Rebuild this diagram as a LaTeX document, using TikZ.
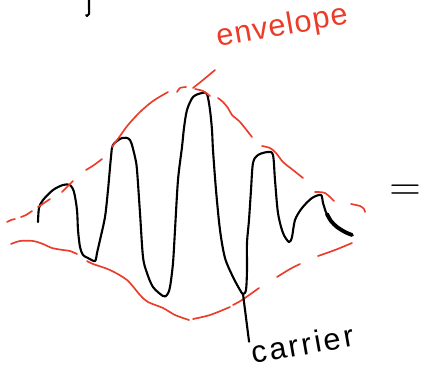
\documentclass[tikz,border=0pt]{standalone}
\usepackage{fontspec}
\setmainfont{Liberation Sans}
\definecolor{penred}{RGB}{235,60,42}
\tikzset{
    carrierpen/.style={draw=black, line width=1.2pt, line cap=round, line join=round},
    tailpen/.style={draw=black, line width=2.2pt, line cap=round, line join=round},
    envpen/.style={draw=penred, line width=0.95pt, line cap=round, line join=round},
    handlabel/.style={inner sep=0pt, rotate=10},
    equalsign/.style={inner sep=0pt, font=\fontsize{30}{30}\selectfont}
}

\begin{document}
\begin{tikzpicture}[x=0.02cm, y=-0.02cm]
    \useasboundingbox (0,0) rectangle (424,370);

    % Tratto in alto
    \draw [carrierpen] plot [smooth, tension=0.6] coordinates {(89,0) (89,8) (89,14) (87,16) (86,15)};

    % Portante
    \draw [carrierpen] plot [smooth, tension=0.5] coordinates {
        (38,222) (39,208) (43,200) (53,190) (63,185) (70,185) (74,192) (77,210) (78,230) (80,247)
        (83,255) (88,258) (95,261) (97,253) (100,240) (105,217) (108,190) (111,157) (113,145)
        (122,138) (130,140) (135,157) (137,170) (140,213) (143,257) (147,273) (153,287) (163,296)
        (167,295) (170,287) (173,263) (175,230) (178,180) (182,147) (184,128) (187,110) (193,97)
        (202,93) (207,94) (210,110) (212,130) (213,150) (216,190) (220,230) (225,258) (233,277)
        (240,290) (243,294) (246,290) (247,270) (247,243) (249,220) (251,190) (253,163) (258,155)
        (268,152) (273,155) (275,180) (278,213) (283,233) (289,242) (292,237) (295,220) (302,208)
        (312,198) (321,195) (323,203) (328,217) (337,227) (345,232) (352,235)};
    \draw [tailpen] plot [smooth, tension=0.5] coordinates {(327,214) (331,221) (337,227) (345,232) (352,235)};
    \coordinate (trough) at (243,294);

    % Inviluppo superiore
    \draw [envpen] plot [smooth] coordinates {(7,222) (11,220) (15,219)};
    \draw [envpen] plot [smooth] coordinates {(21,217) (26,215) (32,211)};
    \draw [envpen] plot [smooth] coordinates {(38,207) (44,203) (50,199)};
    \draw [envpen] plot [smooth] coordinates {(62,192) (67,187) (73,181)};
    \draw [envpen] plot [smooth] coordinates {(86,170) (94,165) (102,159)};
    \draw [envpen] plot [smooth] coordinates {(112,147) (120,136) (128,125) (140,112) (153,101) (168,92)};
    \draw [envpen] plot [smooth] coordinates {(177,92) (180,88) (186,87)};
    \draw [envpen] plot [smooth] coordinates {(193,88) (203,80) (215,70)};
    \draw [envpen] plot [smooth] coordinates {(195,89) (203,91) (210,96)};
    \draw [envpen] plot [smooth] coordinates {(218,98) (223,102) (228,108) (232,115) (240,122) (252,137)};
    \draw [envpen] plot [smooth] coordinates {(262,146) (270,148) (276,153) (283,162) (293,170) (303,178)};
    \draw [envpen] plot [smooth] coordinates {(315,192) (325,193) (334,201)};
    \draw [envpen] plot [smooth] coordinates {(351,204) (360,206) (364,209) (365,212)};

    % Inviluppo inferiore
    \draw [envpen] plot [smooth] coordinates {(11,244) (20,241) (33,241) (43,244) (52,248) (63,250) (70,251) (77,254)};
    \draw [envpen] plot [smooth] coordinates {(87,261) (93,264) (110,270) (127,280) (140,295) (148,302) (163,308) (175,315) (189,320)};
    \draw [envpen] plot [smooth] coordinates {(193,319) (210,315) (230,307)};
    \draw [envpen] plot [smooth] coordinates {(233,305) (242,300) (259,288)};
    \draw [envpen] plot [smooth] coordinates {(277,277) (290,269) (300,264)};
    \draw [envpen] plot [smooth] coordinates {(318,256) (335,250) (352,243)};

    % Etichette
    \node (envlabel) [handlabel, anchor=base west, text=penred, font=\fontsize{17.5}{20}\selectfont\addfontfeatures{LetterSpace=4}] at (218,47) {envelope};
    \node (carrlabel) [handlabel, anchor=base west, font=\fontsize{17.5}{20}\selectfont\addfontfeatures{LetterSpace=9}] at (253,364) {carrier};
    \node (eqsign) [equalsign] at (405,193) {$=$};

    \draw [carrierpen] (trough) -- (carrlabel.north west);

\end{tikzpicture}
\end{document}
